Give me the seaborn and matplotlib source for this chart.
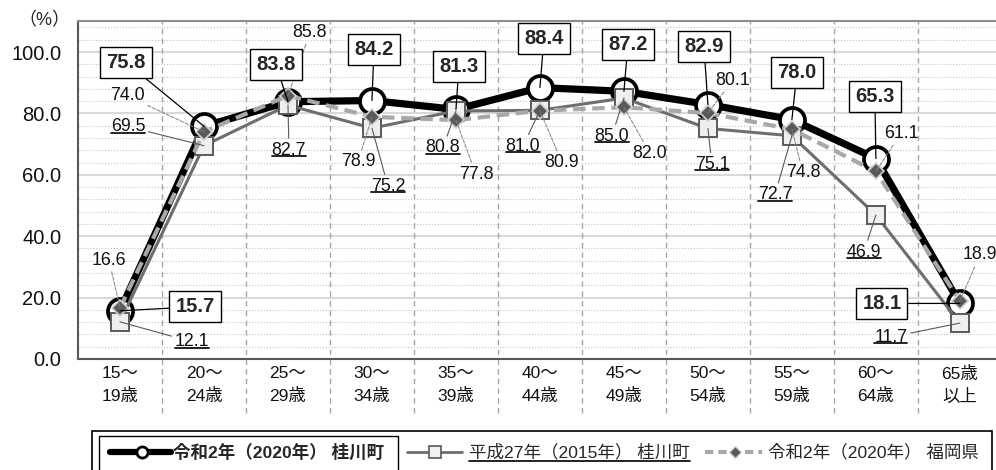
import numpy as np
import pandas as pd
import matplotlib
matplotlib.use('Agg')
import matplotlib.pyplot as plt
import matplotlib.text as mtext
from matplotlib.lines import Line2D
from matplotlib.patches import Rectangle
from matplotlib.ticker import MultipleLocator
import seaborn as sns

# ---- data ----
age_labels = ['15～\n19歳', '20～\n24歳', '25～\n29歳', '30～\n34歳', '35～\n39歳',
              '40～\n44歳', '45～\n49歳', '50～\n54歳', '55～\n59歳', '60～\n64歳', '65歳\n以上']
rate_2020_town = [15.7, 75.8, 83.8, 84.2, 81.3, 88.4, 87.2, 82.9, 78.0, 65.3, 18.1]
rate_2015_town = [12.1, 69.5, 82.7, 75.2, 80.8, 81.0, 85.0, 75.1, 72.7, 46.9, 11.7]
rate_2020_pref = [16.6, 74.0, 85.8, 78.9, 77.8, 80.9, 82.0, 80.1, 74.8, 61.1, 18.9]
legend_names = ['令和2年（2020年） 桂川町', '平成27年（2015年） 桂川町', '令和2年（2020年） 福岡県']

# label offsets (pixels, x right / y up)
off_2020_town = [(75, 4), (-78, 64), (-12, 37), (2, 51), (3, 43), (4, 49),
                 (4, 47), (-4, 58), (5, 47), (-1, 62), (-78, 0)]
off_2015_town = [(72, -20), (-76, 19), (1, -45), (16, -58), (-13, -37), (-17, -36),
                 (-12, -38), (4, -36), (-17, -59), (-12, -37), (-69, -14)]
off_2020_pref = [(-11, 48), (-77, 36), (22, 63), (-14, -45), (20, -54), (22, -52),
                 (26, -46), (25, 33), (11, -43), (25, 38), (20, 46)]

df = pd.DataFrame({'pos': np.arange(len(age_labels)),
                   'town2020': rate_2020_town,
                   'town2015': rate_2015_town,
                   'pref2020': rate_2020_pref})

sns.set_style('white')
plt.rcParams['font.family'] = ['Liberation Sans', 'Noto Sans CJK JP', 'DejaVu Sans']

W, H = 996, 470
fig = plt.figure(figsize=(W / 100, H / 100), dpi=100)
ax = fig.add_axes([78 / W, 111 / H, 918 / W, 338 / H])


def fx(px):
    return px / W


def fy(py):
    return 1 - py / H


# ---- lines ----
sns.lineplot(data=df, x='pos', y='town2020', ax=ax, color='black', linewidth=5.2,
             marker='o', markersize=18, markerfacecolor='white',
             markeredgecolor='black', markeredgewidth=2.7, zorder=3)
sns.lineplot(data=df, x='pos', y='town2015', ax=ax, color='#6e6e6e', linewidth=2.2,
             marker='s', markersize=12.5, markerfacecolor='#efefef',
             markeredgecolor='#5a5a5a', markeredgewidth=1.4, zorder=4)
sns.lineplot(data=df, x='pos', y='pref2020', ax=ax, color='#a8a8a8', linewidth=3,
             linestyle=(0, (3, 1.6)), marker='D', markersize=8.5,
             markerfacecolor='#5a5a5a', markeredgecolor='#d0d0d0',
             markeredgewidth=1.2, zorder=5)

# ---- axes ----
ax.set_xlim(-0.5, 10.43)
ax.set_ylim(0, 110.1)
ax.set_xlabel('')
ax.set_ylabel('')

ax.set_yticks(range(0, 101, 20))
ax.set_yticklabels([f'{v:.1f}' for v in range(0, 101, 20)])
ax.yaxis.set_minor_locator(MultipleLocator(4))
ax.tick_params(axis='y', which='both', length=0, pad=12, labelsize=14.5, labelcolor='#111111')

ax.set_xticks(np.arange(0.5, 10, 1))
ax.set_xticklabels([''] * 10)
ax.set_xticks(range(11), labels=age_labels, minor=True)
ax.tick_params(axis='x', which='major', direction='in', length=4, width=1.2, color='#595959')
ax.tick_params(axis='x', which='minor', length=0, pad=5, labelsize=12.5, labelcolor='#111111')
for t in ax.get_xticklabels(minor=True):
    t.set_linespacing(1.55)

ax.set_axisbelow(True)
ax.grid(axis='y', which='major', color='#d9d9d9', linewidth=1.5)
ax.grid(axis='y', which='minor', color='#c4c4c4', linewidth=0.8, linestyle=':')
ax.grid(axis='x', which='both', visible=False)

for b in np.arange(0.5, 10, 1):
    ax.axvline(b, ymin=-0.16, ymax=1, color='#a6a6a6', linewidth=1,
               linestyle=(0, (4, 3)), clip_on=False, zorder=1)

for side in ['left', 'bottom']:
    ax.spines[side].set_color('#595959')
    ax.spines[side].set_linewidth(1.5)
ax.spines['top'].set_color('#8c8c8c')
ax.spines['top'].set_linewidth(1.5)
ax.spines['right'].set_visible(False)

fig.text(fx(44), fy(21), '（%）', ha='center', va='center', fontsize=13)

# ---- data labels ----
for i, (v, off) in enumerate(zip(rate_2020_town, off_2020_town)):
    ax.annotate(f'{v:.1f}', xy=(i, v), xytext=off, textcoords='offset pixels',
                ha='center', va='center', fontsize=14.5, fontweight='bold', zorder=7,
                bbox=dict(boxstyle='square,pad=0.3', fc='white', ec='black', lw=1),
                arrowprops=dict(arrowstyle='-', color='black', lw=0.9,
                                shrinkA=0, shrinkB=0))

num_under = []
for i, (v, off) in enumerate(zip(rate_2015_town, off_2015_town)):
    a = ax.annotate(f'{v:.1f}', xy=(i, v), xytext=off, textcoords='offset pixels',
                    ha='center', va='center', fontsize=12.8, color='#111111', zorder=6,
                    arrowprops=dict(arrowstyle='-', color='#595959', lw=0.8,
                                    shrinkA=0, shrinkB=0))
    num_under.append(a)

for i, (v, off) in enumerate(zip(rate_2020_pref, off_2020_pref)):
    ax.annotate(f'{v:.1f}', xy=(i, v), xytext=off, textcoords='offset pixels',
                ha='center', va='center', fontsize=12.8, color='#111111', zorder=6,
                arrowprops=dict(arrowstyle='-', color='#808080', lw=0.7,
                                linestyle='--', shrinkA=0, shrinkB=0))

# ---- legend (drawn by hand: boxed first entry, underlined second) ----
fig.add_artist(Rectangle((fx(92), fy(475)), fx(992) - fx(92), fy(431) - fy(475),
                         fill=False, ec='black', lw=1.2, transform=fig.transFigure))
fig.add_artist(Rectangle((fx(99), fy(475)), fx(398) - fx(99), fy(436) - fy(475),
                         fill=False, ec='black', lw=1, transform=fig.transFigure))
ly = fy(452)
fig.add_artist(Line2D([fx(110), fx(171)], [ly, ly], color='black', lw=4.5))
fig.add_artist(Line2D([fx(142)], [ly], marker='o', markersize=8, markerfacecolor='white',
                      markeredgecolor='black', markeredgewidth=2, linestyle='none'))
fig.text(fx(173), ly, legend_names[0], ha='left', va='center', fontsize=12.6,
         fontweight='bold')

fig.add_artist(Line2D([fx(407), fx(462)], [ly, ly], color='#6e6e6e', lw=2))
fig.add_artist(Line2D([fx(435)], [ly], marker='s', markersize=8, markerfacecolor='#efefef',
                      markeredgecolor='#5a5a5a', markeredgewidth=1.2, linestyle='none'))
lt2 = fig.text(fx(469), ly, legend_names[1], ha='left', va='center', fontsize=12.6)

fig.add_artist(Line2D([fx(705), fx(762)], [ly, ly], color='#a8a8a8', lw=3,
                      linestyle=(0, (2, 1.2))))
fig.add_artist(Line2D([fx(735)], [ly], marker='D', markersize=6, markerfacecolor='#5a5a5a',
                      markeredgecolor='#d0d0d0', markeredgewidth=1, linestyle='none'))
fig.text(fx(768), ly, legend_names[2], ha='left', va='center', fontsize=12.6)

# underline texts
fig.canvas.draw()
renderer = fig.canvas.get_renderer()
for t, shift in [(a, 2.5) for a in num_under] + [(lt2, -1.0)]:
    bb = mtext.Text.get_window_extent(t, renderer)
    yline = (bb.y0 + shift) / H
    fig.add_artist(Line2D([bb.x0 / W, bb.x1 / W], [yline, yline], color='#111111', lw=1.3))

fig.savefig('out.png', dpi=100)
